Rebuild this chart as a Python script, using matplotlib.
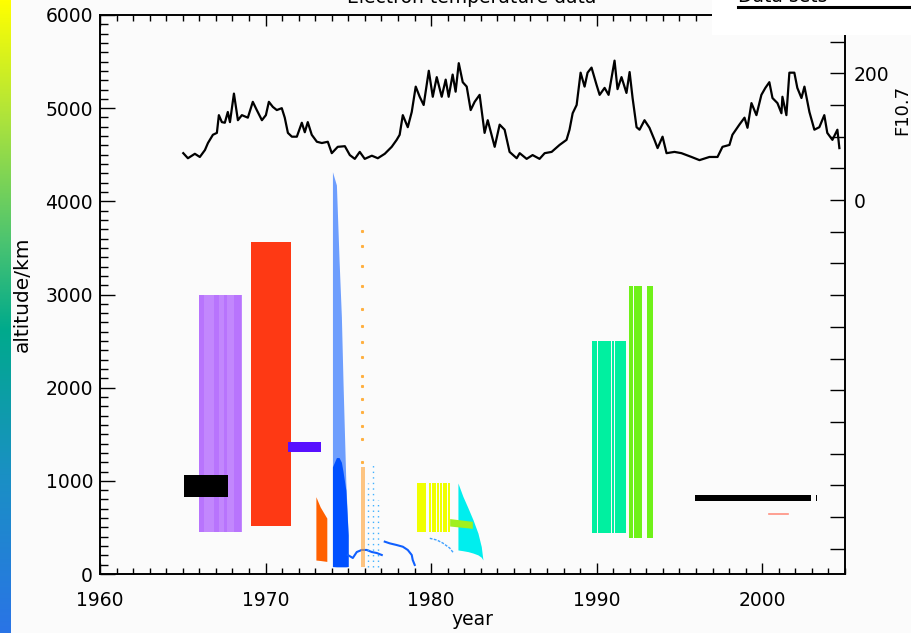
import numpy as np
import matplotlib
matplotlib.use("Agg")
import matplotlib.pyplot as plt
from matplotlib.colors import LinearSegmentedColormap
from matplotlib.patches import Rectangle
from matplotlib.lines import Line2D
from matplotlib.ticker import MultipleLocator, FixedLocator

# ---------------- data ----------------
# F10.7 solar flux (right axis)
f107_year = [1965.03, 1965.31, 1965.73, 1966.03, 1966.34, 1966.52, 1966.82, 1967.06, 1967.18, 1967.36,
             1967.54, 1967.72, 1967.85, 1968.09, 1968.33, 1968.57, 1968.93, 1969.23, 1969.47, 1969.78,
             1970.02, 1970.20, 1970.44, 1970.68, 1970.98, 1971.16, 1971.35, 1971.59, 1971.89, 1972.19,
             1972.37, 1972.55, 1972.79, 1973.10, 1973.40, 1973.76, 1974.00, 1974.36, 1974.79, 1975.09,
             1975.39, 1975.69, 1975.99, 1976.42, 1976.78, 1977.20, 1977.62, 1977.92, 1978.10, 1978.29,
             1978.59, 1978.83, 1979.07, 1979.31, 1979.55, 1979.86, 1980.10, 1980.34, 1980.64, 1980.88,
             1981.06, 1981.30, 1981.48, 1981.67, 1981.91, 1982.15, 1982.39, 1982.63, 1982.93, 1983.23,
             1983.42, 1983.84, 1984.14, 1984.44, 1984.74, 1985.17, 1985.35, 1985.77, 1986.13, 1986.55,
             1986.86, 1987.28, 1987.76, 1988.18, 1988.36, 1988.55, 1988.79, 1989.03, 1989.27, 1989.45,
             1989.69, 1989.99, 1990.18, 1990.48, 1990.72, 1991.08, 1991.26, 1991.50, 1991.80, 1991.99,
             1992.17, 1992.41, 1992.59, 1992.89, 1993.19, 1993.49, 1993.68, 1993.98, 1994.22, 1994.70,
             1995.12, 1995.73, 1996.21, 1996.81, 1997.30, 1997.60, 1998.02, 1998.20, 1998.62, 1998.93,
             1999.11, 1999.35, 1999.65, 1999.95, 2000.19, 2000.43, 2000.62, 2000.92, 2001.16, 2001.22,
             2001.46, 2001.64, 2001.94, 2002.12, 2002.37, 2002.55, 2002.85, 2003.15, 2003.45, 2003.75,
             2003.93, 2004.24, 2004.54, 2004.66]
f107_val = [74, 66, 73, 68, 79, 90, 103, 106, 134, 123,
            122, 139, 123, 168, 126, 134, 130, 155, 142, 126,
            134, 155, 147, 142, 145, 130, 106, 100, 100, 122,
            107, 123, 103, 92, 90, 92, 74, 84, 85, 71,
            65, 76, 65, 70, 66, 73, 84, 95, 103, 134,
            115, 139, 179, 163, 150, 204, 163, 194, 163, 190,
            163, 198, 171, 216, 186, 179, 142, 155, 166, 106,
            126, 84, 119, 111, 76, 66, 74, 65, 71, 65,
            74, 76, 87, 95, 111, 137, 150, 201, 179, 201,
            209, 182, 166, 177, 166, 220, 175, 194, 169, 202,
            161, 115, 111, 126, 114, 95, 82, 100, 74, 76,
            74, 68, 63, 68, 68, 84, 87, 103, 119, 130,
            114, 153, 134, 166, 177, 186, 161, 153, 137, 163,
            134, 201, 201, 177, 161, 179, 139, 111, 115, 134,
            106, 95, 111, 82]

# satellite data blocks: (start year, end year) intervals and altitude range (km)
black_stripes = [(1965.08, 1967.74)]
black_alt = [829, 1066]
purple_stripes = [(1965.97, 1968.57)]
purple_dense = [(1966.0, 1966.3), (1966.9, 1967.2), (1967.5, 1967.7), (1968.1, 1968.5)]
purple_alt = [452, 2995]
red_stripes = [(1969.11, 1971.53)]
red_alt = [517, 3566]
violet_stripes = [(1971.35, 1973.34)]
violet_alt = [1314, 1422]
orange_year = [1973.04, 1973.3, 1973.5, 1973.7]
orange_top = [830, 720, 660, 600]
orange_bot = [150, 145, 140, 135]
blue_year = [1974.04, 1974.28, 1974.44, 1974.58, 1974.68, 1974.85, 1974.99]
blue_top = [4318, 4175, 3370, 2762, 2050, 977, 419]
blue_dense_top = [1150, 1250, 1250, 1200, 1100, 900, 419]
blue_bot = [80, 78, 78, 78, 78, 78, 80]
blue_line_year = [1974.97, 1975.27, 1975.51, 1975.81, 1976.11, 1976.42, 1976.72, 1977.02]
blue_line_alt = [204, 172, 236, 258, 258, 236, 225, 204]
blue_arc_year = [1977.20, 1977.50, 1977.92, 1978.29, 1978.59, 1978.83, 1978.89, 1979.01]
blue_arc_alt = [347, 329, 311, 293, 258, 204, 150, 97]
lblue_arc_year = [1979.92, 1980.34, 1980.70, 1981.12, 1981.36]
lblue_arc_alt = [383, 365, 333, 279, 225]
lblue_col_year = [1976.19, 1976.49, 1976.80]
lblue_col_top = [977, 1190, 795]
orange_dot_year = 1975.81
orange_dot_alt = [3684, 3523, 3307, 3092, 2844, 2661, 2489, 2327, 2122, 2015, 1874, 1734, 1584, 1444, 1207]
orange_dense = [(1975.79, 1976.0)]
orange_dense_alt = [80, 1150]
yellow_stripes = [(1979.17, 1979.71), (1979.87, 1980.01), (1980.07, 1980.31), (1980.37, 1980.47),
                  (1980.51, 1980.63), (1980.71, 1980.81), (1980.85, 1980.95), (1981.01, 1981.12)]
yellow_alt = [452, 980]
ygreen_year = [1981.12, 1982.49]
ygreen_top = [595, 565]
ygreen_bot = [515, 490]
cyan_year = [1981.62, 1981.92, 1982.23, 1982.53, 1982.83, 1983.03, 1983.13]
cyan_top = [977, 833, 708, 582, 438, 294, 151]
cyan_bot = [258, 250, 240, 225, 205, 180, 151]
mint_stripes = [(1989.71, 1990.01), (1990.07, 1990.88), (1990.91, 1991.07), (1991.13, 1991.78)]
mint_alt = [438, 2503]
green_stripes = [(1991.94, 1992.18), (1992.24, 1992.72), (1993.05, 1993.43)]
green_alt = [384, 3095]
dark_stripes = [(1995.91, 2002.95), (2003.22, 2003.28)]
dark_alt = [785, 850]
salmon_year = [2000.39, 2001.54]
salmon_alt = [643, 643]

# ---------------- figure ----------------
W, H = 912, 633
fig = plt.figure(figsize=(W / 100, H / 100), dpi=100, facecolor='#fbfbfb')
plt.rcParams['font.family'] = ['DejaVu Sans']

L, R, B, T = 100, 845, 574, 15
ax = fig.add_axes([L / W, 1 - B / H, (R - L) / W, (B - T) / H])
ax.set_facecolor('#fbfbfb')
ax.set_xlim(1960, 2005)
ax.set_ylim(0, 6000)


def stripes(lst, alt, color, alpha=1.0, z=2):
    ax.broken_barh([(s, e - s) for s, e in lst], (alt[0], alt[1] - alt[0]),
                   facecolors=color, edgecolors='none', alpha=alpha, zorder=z)


stripes(purple_stripes, purple_alt, '#a040ff', 0.62, 2)
stripes(purple_dense, purple_alt, '#9020ff', 0.18, 2)
stripes(black_stripes, black_alt, '#000000', 1.0, 3)
stripes(red_stripes, red_alt, '#ff2800', 0.92, 2)
stripes(violet_stripes, violet_alt, '#5810ff', 1.0, 3)
ax.fill_between(orange_year, orange_bot, orange_top, color='#ff6000', lw=0, zorder=2)
ax.fill_between(blue_year, blue_bot, blue_top, color='#1060ff', alpha=0.6, lw=0, zorder=2)
ax.fill_between(blue_year, blue_bot, blue_dense_top, color='#0050ff', lw=0, zorder=2)
ax.plot(blue_line_year, blue_line_alt, color='#1060ff', lw=1.5, zorder=3)
ax.plot(blue_arc_year, blue_arc_alt, color='#1060ff', lw=1.5, zorder=3)
ax.plot(lblue_arc_year, lblue_arc_alt, color='#40a0ff', lw=1.0, ls=(0, (2, 1)), zorder=3)
ax.vlines(lblue_col_year, 80, lblue_col_top, colors='#40b0ff', lw=1.0, linestyles=(0, (1, 3)), zorder=3)
stripes(orange_dense, orange_dense_alt, '#ffa030', 0.6, 4)
ax.plot([orange_dot_year] * len(orange_dot_alt), orange_dot_alt, ls='none', marker='s',
        ms=1.2, color='#ffb040', zorder=3)
stripes(yellow_stripes, yellow_alt, '#f0ff00', 1.0, 2)
ax.fill_between(cyan_year, cyan_bot, cyan_top, color='#00eeee', lw=0, zorder=2)
ax.fill_between(ygreen_year, ygreen_bot, ygreen_top, color='#a0f020', lw=0, zorder=3)
stripes(mint_stripes, mint_alt, '#00f0a0', 1.0, 2)
stripes(green_stripes, green_alt, '#60f000', 0.9, 2)
stripes(dark_stripes, dark_alt, '#000000', 1.0, 2)
ax.plot(salmon_year, salmon_alt, color='#ff9080', lw=1.2, zorder=3)

# axes styling
for s in ax.spines.values():
    s.set_linewidth(1.2)
ax.xaxis.set_major_locator(MultipleLocator(10))
ax.xaxis.set_minor_locator(MultipleLocator(1))
ax.yaxis.set_major_locator(MultipleLocator(1000))
ax.yaxis.set_minor_locator(MultipleLocator(100))
ax.tick_params(axis='x', which='major', direction='in', length=8, width=1, top=True, labelsize=13.5, pad=12)
ax.tick_params(axis='x', which='minor', direction='in', length=4, width=1, top=True)
ax.tick_params(axis='y', which='major', direction='in', length=11, width=1, right=False, labelsize=13.5, pad=5)
ax.tick_params(axis='y', which='minor', direction='in', length=5.5, width=1, right=False)
ax.set_xlabel('year', fontsize=13.5, labelpad=0)
ax.set_ylabel('altitude/km', fontsize=14.5, labelpad=10)

ax2 = ax.twinx()
ax2.set_ylim(-590, 292)
ax2.plot(f107_year, f107_val, color='black', lw=1.6, zorder=5)
r_ticks = list(range(-550, 251, 50))
ax2.yaxis.set_major_locator(FixedLocator(r_ticks))
ax2.set_yticklabels(['0' if t == 0 else ('200' if t == 200 else '') for t in r_ticks])
ax2.tick_params(axis='y', direction='in', length=11, width=1, labelsize=13.5, pad=6)
for s in ax2.spines.values():
    s.set_linewidth(1.2)
fig.text(902 / W, 1 - 110 / H, 'F10.7', rotation=90, ha='center', va='center', fontsize=13)

# title (clipped at top of figure, as in the reference)
fig.text(0.517, 1 - 3 / H, 'Electron temperature data', ha='center', va='baseline', fontsize=13.5)

# legend box (partially visible)
fig.patches.append(Rectangle((712 / W, 1 - 35 / H), 200 / W, 35 / H, transform=fig.transFigure,
                             facecolor='white', edgecolor='none', zorder=10))
fig.lines.append(Line2D([738 / W, 1.0], [1 - 7 / H, 1 - 7 / H], transform=fig.transFigure,
                        color='black', lw=2.2, zorder=11))
fig.text(738 / W, 1 - 2 / H, 'Data sets', ha='left', va='baseline', fontsize=13.5, zorder=12)

# colour bar strip at the left edge
cax = fig.add_axes([0, 0, 11 / W, 1])
cmap = LinearSegmentedColormap.from_list('strip', [(0.0, '#2a74e6'), (0.25, '#1a90c4'), (0.48, '#00aa8c'),
                                                    (0.62, '#4cc470'), (0.82, '#b0e43a'), (1.0, '#ffff00')])
cax.imshow(np.linspace(0, 1, 256).reshape(-1, 1), aspect='auto', cmap=cmap, origin='lower', extent=[0, 1, 0, 1])
cax.set_axis_off()

fig.savefig('out.png', dpi=100, facecolor=fig.get_facecolor())
